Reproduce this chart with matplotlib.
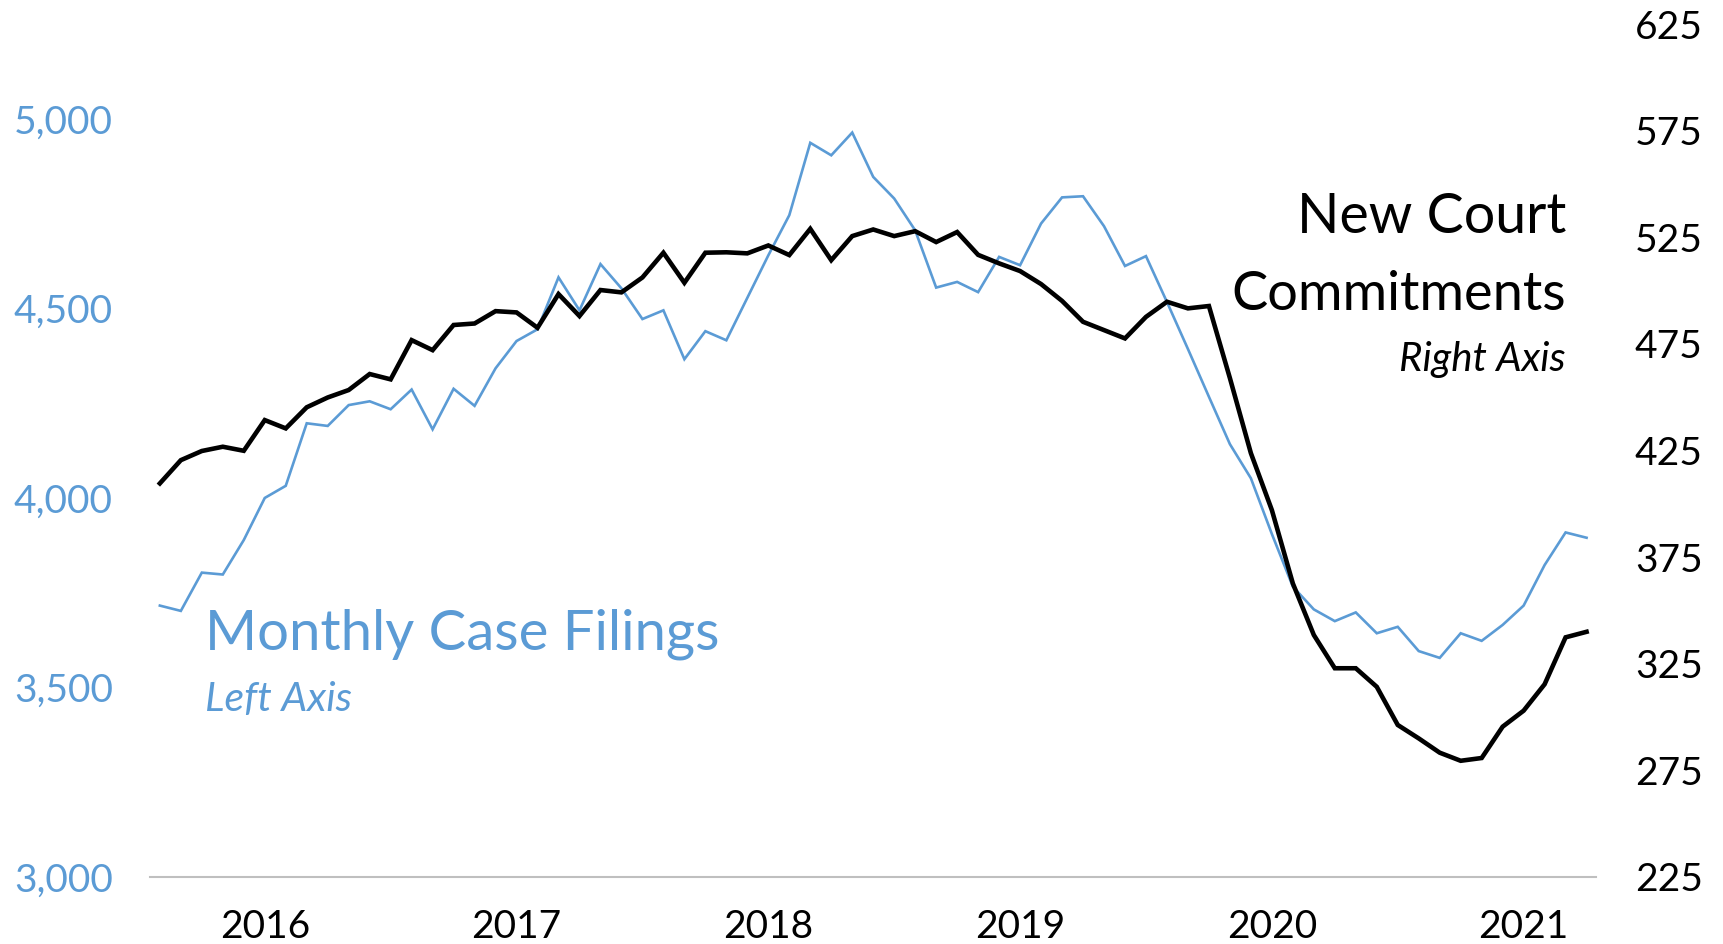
import matplotlib
matplotlib.use("Agg")
import matplotlib.pyplot as plt
import pandas as pd

# ---- data (monthly, Aug 2015 - Apr 2021) ----
months = pd.date_range("2015-08-01", periods=69, freq="MS")

case_filings = [
    3716, 3702, 3803, 3798, 3889, 4000, 4032, 4197, 4190, 4245,
    4255, 4234, 4286, 4181, 4288, 4243, 4342, 4414, 4445, 4582,
    4495, 4617, 4553, 4472, 4495, 4366, 4440, 4416, 4528, 4640,
    4746, 4937, 4904, 4964, 4847, 4790, 4706, 4555, 4570, 4543,
    4636, 4614, 4724, 4793, 4796, 4717, 4612, 4638, 4517, 4393,
    4267, 4142, 4052, 3905, 3766, 3706, 3675, 3698, 3643, 3660,
    3596, 3578, 3643, 3623, 3665, 3716, 3823, 3909, 3895,
]

court_commitments = [
    409.6, 420.5, 424.8, 426.8, 424.9, 439.3, 435.4, 445.3, 449.9, 453.4,
    460.9, 458.4, 476.8, 472.1, 483.9, 484.6, 490.4, 489.8, 482.6, 498.4,
    488.1, 500.3, 499.2, 506.2, 517.8, 503.7, 517.8, 518.0, 517.5, 521.2,
    516.7, 529.0, 514.3, 525.6, 528.7, 525.6, 527.9, 522.8, 527.5, 516.8,
    512.8, 509.2, 503.1, 495.2, 485.4, 481.5, 477.6, 487.7, 494.8, 491.7,
    492.8, 459.0, 423.8, 397.1, 362.7, 338.5, 322.9, 322.9, 314.2, 296.3,
    290.0, 283.3, 279.5, 280.8, 295.5, 303.0, 315.4, 337.4, 340.0,
]

left_ticks = [3000, 3500, 4000, 4500, 5000]
right_ticks = [225, 275, 325, 375, 425, 475, 525, 575, 625]

BLUE = "#5B9BD5"
FONT = "Lato"

plt.rcParams["font.family"] = [FONT, "DejaVu Sans"]

fig = plt.figure(figsize=(17.23, 9.44), dpi=100)
ax = fig.add_axes([0.0873, 0.071, 0.8390, 0.9034])
ax2 = ax.twinx()

x = list(range(len(months)))
ax.plot(x, case_filings, color=BLUE, lw=1.9, solid_joinstyle="miter", zorder=2)
ax2.plot(x, court_commitments, color="black", lw=3.3, solid_joinstyle="miter", zorder=3)

ax.set_xlim(-0.45, len(months) - 1 + 0.45)
ax.set_ylim(3000, 5250)
ax2.set_ylim(225, 625)

ax.set_yticks(left_ticks)
ax.set_yticklabels([f"{v:,}" for v in left_ticks])
ax2.set_yticks(right_ticks)
ax2.set_yticklabels([str(v) for v in right_ticks])

jan_idx = [i for i, m in enumerate(months) if m.month == 1]
ax.set_xticks(jan_idx)
ax.set_xticklabels([str(months[i].year) for i in jan_idx])

ax.tick_params(axis="y", length=0, pad=27, labelsize=28, labelcolor=BLUE)
ax2.tick_params(axis="y", length=0, pad=28, labelsize=28, labelcolor="black")
ax.tick_params(axis="x", length=0, pad=23, labelsize=28, labelcolor="black")

for a in (ax, ax2):
    for s in ("top", "left", "right"):
        a.spines[s].set_visible(False)
    a.patch.set_visible(False)
ax2.spines["bottom"].set_visible(False)
ax.spines["bottom"].set_color("#BFBFBF")
ax.spines["bottom"].set_linewidth(1.5)

# annotations
fig.text(1566 / 1723, 1 - 233 / 944, "New Court", ha="right", va="baseline",
         fontsize=40, color="black")
fig.text(1566 / 1723, 1 - 310 / 944, "Commitments", ha="right", va="baseline",
         fontsize=39, color="black")
fig.text(1566 / 1723, 1 - 371 / 944, "Right Axis", ha="right", va="baseline",
         fontsize=29, style="italic", color="black")
fig.text(205 / 1723, 1 - 649 / 944, "Monthly Case Filings", ha="left", va="baseline",
         fontsize=40.5, color=BLUE)
fig.text(205 / 1723, 1 - 711 / 944, "Left Axis", ha="left", va="baseline",
         fontsize=29.5, style="italic", color=BLUE)

fig.savefig("out.png", dpi=100, facecolor="white")
